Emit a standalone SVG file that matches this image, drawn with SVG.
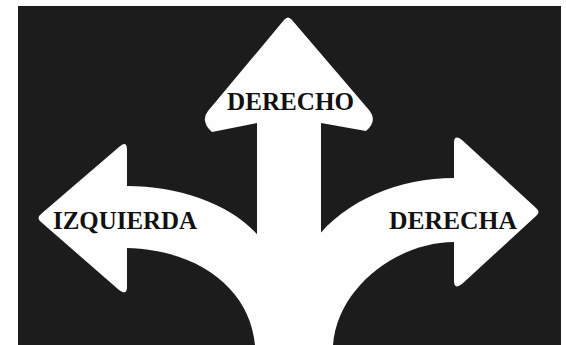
<svg xmlns="http://www.w3.org/2000/svg" width="566" height="345" viewBox="0 0 566 345">
<style>
.arrow{fill:#fefefe;stroke:none}
.lbl{font-family:"Liberation Serif","Times New Roman",serif;font-weight:bold;font-size:25px;fill:#111111}
</style>
<rect x="0" y="0" width="566" height="345" fill="#ffffff"/>
<rect x="18" y="6" width="543" height="339" fill="#1c1c1c"/>
<g id="izquierda">
<path class="arrow" d="M127,186 C180,186 235,205 262,240 L300,345 L255,345 C250,290 200,250 127,248 L127,287 Q127,296 119,290 L41,222 Q36,218 41,214 L119,147 Q127,140 127,150 Z"/>
<text class="lbl" x="53" y="229" textLength="144" lengthAdjust="spacingAndGlyphs">IZQUIERDA</text>
</g>
<g id="derecha">
<path class="arrow" d="M454,178 C400,178 345,200 315,240 L290,345 L333,345 C338,285 400,242 454,242 L454,281 Q454,290 462,284 L536,216 Q541,212 536,208 L462,140 Q454,134 454,143 Z"/>
<text class="lbl" x="389" y="229" textLength="128" lengthAdjust="spacingAndGlyphs">DERECHA</text>
</g>
<g id="derecho">
<path class="arrow" d="M284,20 Q288,15 292,20 L369,110 Q378,121 366,131 L321,123 L321,345 L257,345 L257,123 L212,132 Q200,121 208,111 Z"/>
<text class="lbl" x="227" y="110" textLength="127" lengthAdjust="spacingAndGlyphs">DERECHO</text>
</g>
</svg>
